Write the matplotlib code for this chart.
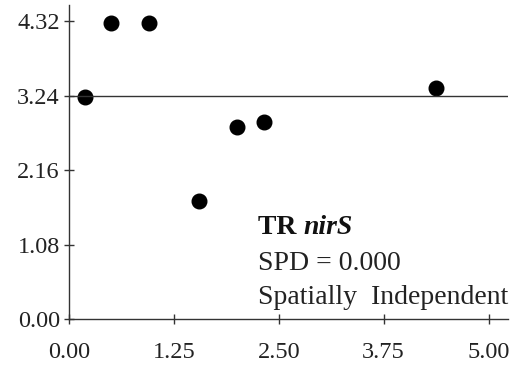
import matplotlib
matplotlib.use("Agg")
import matplotlib.pyplot as plt

# semivariogram points: lag distance vs semivariance
lag = [0.19, 0.50, 0.96, 1.55, 2.00, 2.33, 4.37]
semivar = [3.22, 4.29, 4.29, 1.71, 2.78, 2.85, 3.35]
sill = 3.24

xticks = [0.00, 1.25, 2.50, 3.75, 5.00]
yticks = [0.00, 1.08, 2.16, 3.24, 4.32]

plt.rcParams['font.family'] = ['Liberation Serif', 'DejaVu Serif']

fig = plt.figure(figsize=(5.14, 3.68), dpi=100)
ax = fig.add_axes([0.134, 0.133, 0.854, 0.853])

ax.plot(lag, semivar, 'o', color='black', markersize=10.5)
ax.axhline(sill, color='#333333', linewidth=1.0)

ax.set_xlim(0, 5.23)
ax.set_ylim(0, 4.55)
ax.set_xticks(xticks)
ax.set_yticks(yticks)
ax.set_xticklabels([f"{v:.2f}" for v in xticks])
ax.set_yticklabels([f"{v:.2f}" for v in yticks])
ax.tick_params(direction='inout', length=7, width=1, colors='#333333',
               labelsize=17.5, labelcolor='#222222', pad=3)
ax.tick_params(axis='x', pad=13)

for side in ['top', 'right']:
    ax.spines[side].set_visible(False)
for side in ['left', 'bottom']:
    ax.spines[side].set_color('#333333')
    ax.spines[side].set_linewidth(1.0)

# title of the panel: bold "TR" followed by bold italic gene name
t1 = ax.text(0.43, 0.293, "TR ", transform=ax.transAxes,
             fontsize=20, fontweight='bold', va='center', ha='left', color='#111111')
ax.annotate("nirS", xy=(1, 0.5), xycoords=t1, va='center', ha='left',
            fontsize=20, fontweight='bold', fontstyle='italic', color='#111111')
ax.text(0.43, 0.178, "SPD = 0.000", transform=ax.transAxes,
        fontsize=20, va='center', ha='left', color='#222222')
ax.text(0.43, 0.07, "Spatially  Independent", transform=ax.transAxes,
        fontsize=20, va='center', ha='left', color='#222222')

fig.savefig("out.png", dpi=100)
